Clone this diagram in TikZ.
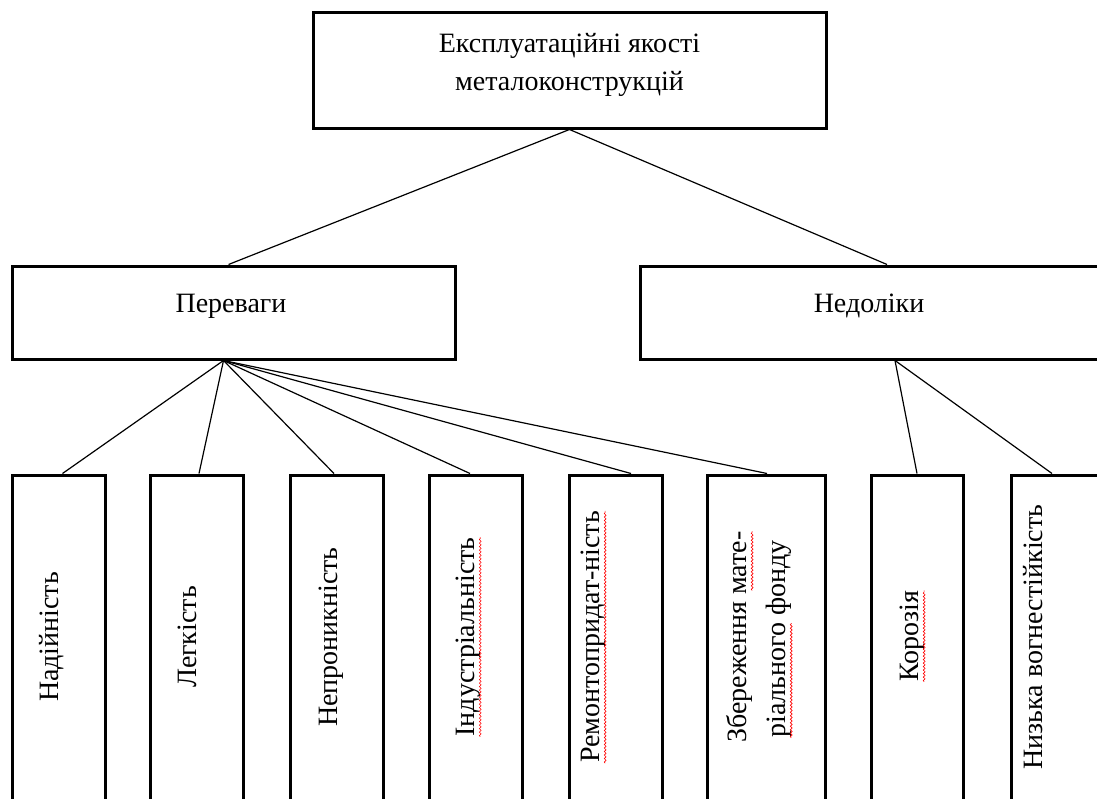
\documentclass[tikz,border=0pt]{standalone}
\usepackage{fontspec}
\setmainfont{Liberation Serif}
\usetikzlibrary{calc,decorations.pathmorphing}
\begin{document}
\begin{tikzpicture}[x=1pt,y=-1pt,
  frame/.style={draw, line width=3pt, rectangle, inner sep=0pt},
  link/.style={line width=1.2pt},
  lbl/.style={font=\fontsize{28}{38}\selectfont, inner sep=0pt, anchor=base},
  vlbl/.style={lbl, rotate=90},
  squig/.style={red, line width=0.6pt, decorate, decoration={snake, amplitude=0.9pt, segment length=3.5pt}}
]
\useasboundingbox (0,0) rectangle (1097,798);
\clip (0,0) rectangle (1097,798);
% boxes
\node[frame, minimum width=513pt, minimum height=116pt] (top) at (569.5,70) {};
\node[frame, minimum width=443pt, minimum height=93pt] (per) at (233.5,312.5) {};
\node[frame, minimum width=458pt, minimum height=93pt] (ned) at (869,312.5) {};
\foreach \n/\x/\w in {b1/58.5/93, b2/196.5/93, b3/336.5/93, b4/475.5/93, b5/615.5/93, b6/766/118, b7/917/92, b8/1057.5/93}
  \node[frame, minimum width=\w pt, minimum height=354pt] (\n) at (\x,652) {};
% texts
\node[lbl] (tt1) at (569.5,52) {Експлуатаційні якості};
\node[lbl] (tt2) at (569.5,90) {металоконструкцій};
\node[lbl] (tp) at (231,312) {Переваги};
\node[lbl] (tn) at (869,312) {Недоліки};
\node[vlbl] (l1) at (58.5,637) {Надійність};
\node[vlbl] (l2) at (196,637) {Легкість};
\node[vlbl] (l3) at (337,637) {Непроникність};
\node[vlbl] (l4) at (474,637) {Індустріальність};
\node[vlbl] (l5) at (599,637) {Ремонтопридат-ність};
\node[vlbl] (l6a) at (746,637) {Збереження мате-};
\node[vlbl] (l6b) at (785,639) {ріального фонду};
\node[vlbl] (l7) at (918,636) {Корозія};
\node[vlbl] (l8) at (1042,637) {Низька вогнестійкість};
% spell-check squiggles
\draw[squig] (l4.south west) -- (l4.south east);
\draw[squig] (l5.south west) -- (l5.south east);
\draw[squig] ($(l6a.south west)!0.72!(l6a.south east)$) -- (l6a.south east);
\draw[squig] (l6b.south west) -- ($(l6b.south west)!0.58!(l6b.south east)$);
\draw[squig] (l7.south west) -- (l7.south east);
% connectors
\coordinate (pa) at ([xshift=-10pt]per.south);
\coordinate (na) at ([xshift=26pt]ned.south);
\draw[link] (top.south) -- ([xshift=-5pt]per.north);
\draw[link] (top.south) -- ([xshift=18pt]ned.north);
\draw[link] (pa) -- ([xshift=4pt]b1.north);
\draw[link] (pa) -- ([xshift=2.5pt]b2.north);
\draw[link] (pa) -- ([xshift=-2.5pt]b3.north);
\draw[link] (pa) -- ([xshift=-5.5pt]b4.north);
\draw[link] (pa) -- ([xshift=15.5pt]b5.north);
\draw[link] (pa) -- ([xshift=1pt]b6.north);
\draw[link] (na) -- (b7.north);
\draw[link] (na) -- ([xshift=-5.5pt]b8.north);
\end{tikzpicture}
\end{document}
